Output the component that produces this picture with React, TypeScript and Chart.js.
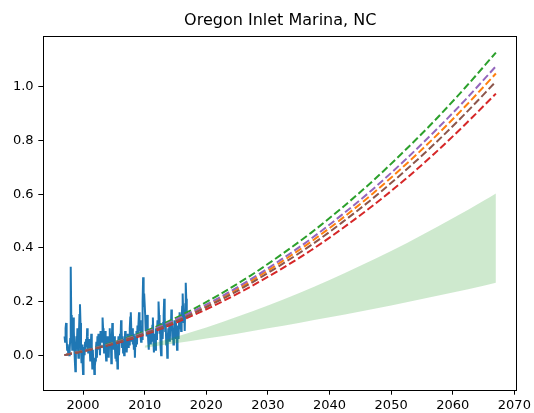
import React, { useEffect, useRef } from "react";
import { Chart, registerables } from "chart.js";

Chart.register(...registerables);

const chartTitle = "Oregon Inlet Marina, NC";

// Observed monthly values, starting Jan 1997
const obsStartYear = 1997.0;
const obsValues: number[] = [
  // 1997
  0.07, 0.05, 0.10, 0.12, 0.06, 0.02, 0.04, 0.01, 0.03, 0.00, 0.02, 0.06,
  // 1998
  0.33, 0.15, 0.08, 0.02, 0.05, 0.14, 0.09, 0.03, -0.02, -0.06, 0.01, 0.07,
  // 1999
  0.04, 0.10, 0.03, -0.01, 0.08, 0.15, 0.19, 0.12, 0.02, -0.03, 0.04, -0.02,
  // 2000
  -0.07, -0.02, 0.03, 0.00, 0.05, 0.02, 0.06, 0.03, 0.10, 0.07, 0.01, 0.04,
  // 2001
  0.06, 0.02, -0.02, 0.03, 0.08, 0.01, -0.05, 0.02, -0.03, -0.01, -0.07, -0.04,
  // 2002
  -0.02, 0.02, 0.05, -0.01, 0.07, 0.04, 0.08, 0.02, 0.06, 0.00, 0.09, 0.06,
  // 2003
  0.09, 0.05, 0.14, 0.10, 0.06, 0.01, 0.04, 0.09, 0.02, -0.02, 0.05, 0.07,
  // 2004
  0.03, 0.07, -0.01, 0.06, 0.10, 0.03, 0.08, -0.03, 0.06, 0.12, 0.09, 0.04,
  // 2005
  0.02, 0.07, 0.03, -0.01, 0.05, -0.02, 0.02, -0.05, 0.03, 0.07, 0.00, 0.04,
  // 2006
  0.08, 0.05, 0.13, 0.10, 0.03, 0.07, 0.01, 0.06, 0.00, 0.04, 0.09, 0.02,
  // 2007
  0.06, 0.01, 0.05, 0.08, 0.03, 0.07, 0.04, 0.10, 0.14, 0.16, 0.09, 0.05,
  // 2008
  0.10, 0.04, 0.08, 0.02, 0.06, -0.01, 0.07, 0.03, 0.09, 0.04, 0.11, 0.07,
  // 2009
  0.12, 0.16, 0.09, 0.13, 0.07, 0.05, 0.11, 0.06, 0.20, 0.29, 0.18, 0.23,
  // 2010
  0.23, 0.15, 0.09, 0.12, 0.07, 0.15, 0.10, 0.05, 0.02, 0.09, 0.04, 0.08,
  // 2011
  0.04, 0.09, 0.05, 0.11, 0.14, 0.06, 0.01, 0.05, 0.08, 0.02, 0.10, 0.06,
  // 2012
  0.09, 0.13, 0.10, 0.20, 0.15, 0.08, 0.12, 0.03, 0.00, 0.06, 0.10, 0.06,
  // 2013
  0.12, 0.15, 0.21, 0.14, 0.09, 0.12, 0.04, 0.08, -0.01, 0.06, 0.10, 0.06,
  // 2014
  0.11, 0.05, 0.13, 0.09, 0.17, 0.12, 0.06, 0.10, 0.04, 0.09, 0.13, 0.08,
  // 2015
  0.12, 0.06, 0.09, 0.02, 0.08, 0.11, 0.06, 0.13, 0.16, 0.10, 0.14, 0.09,
  // 2016
  0.13, 0.18, 0.23, 0.16, 0.12, 0.16, 0.09, 0.19, 0.27, 0.21, 0.14, 0.15,
];

// Projection curves
const projYears = [1997, 2002, 2007, 2012, 2017, 2022, 2027, 2032, 2037, 2042, 2047, 2052, 2057, 2062, 2067];
const projGreen = [0, 0.028, 0.063, 0.107, 0.161, 0.224, 0.294, 0.372, 0.456, 0.549, 0.649, 0.758, 0.873, 0.997, 1.128];
const projPurple = [0, 0.027, 0.060, 0.102, 0.154, 0.213, 0.280, 0.354, 0.434, 0.523, 0.618, 0.722, 0.833, 0.951, 1.077];
const projOrange = [0, 0.026, 0.059, 0.100, 0.150, 0.208, 0.273, 0.345, 0.423, 0.509, 0.602, 0.703, 0.811, 0.927, 1.050];
const projBrown = [0, 0.025, 0.058, 0.097, 0.146, 0.202, 0.265, 0.335, 0.410, 0.494, 0.584, 0.682, 0.787, 0.900, 1.020];
const projRed = [0, 0.025, 0.055, 0.093, 0.140, 0.193, 0.253, 0.319, 0.391, 0.471, 0.557, 0.650, 0.751, 0.860, 0.975];

// Shaded band
const bandYears = [2010, 2015, 2020, 2025, 2030, 2035, 2040, 2045, 2050, 2055, 2060, 2065, 2067];
const bandLower = [0.028, 0.044, 0.062, 0.080, 0.100, 0.120, 0.141, 0.163, 0.185, 0.209, 0.234, 0.259, 0.270];
const bandUpper = [0.035, 0.068, 0.103, 0.143, 0.185, 0.231, 0.280, 0.333, 0.388, 0.448, 0.510, 0.576, 0.603];

// Axes
const xTicks = [2000, 2010, 2020, 2030, 2040, 2050, 2060, 2070];
const yTicks = [0.0, 0.2, 0.4, 0.6, 0.8, 1.0];
const xMin = 1993.5;
const xMax = 2070.5;
const yMin = -0.13;
const yMax = 1.19;

const FONT = '"DejaVu Sans", sans-serif';

const toPts = (xs: number[], ys: number[]) => xs.map((x, i) => ({ x, y: ys[i] }));

const mplPlugin = {
  id: "mplFrameTitle",
  afterDraw(chart: any) {
    const ctx = chart.ctx;
    const { left, right, top, bottom } = chart.chartArea;
    ctx.save();
    ctx.strokeStyle = "#000";
    ctx.lineWidth = 1;
    ctx.strokeRect(Math.round(left) + 0.5, Math.round(top) + 0.5, Math.round(right - left) - 1, Math.round(bottom - top));
    ctx.fillStyle = "#000";
    ctx.font = `16px ${FONT}`;
    ctx.textAlign = "center";
    ctx.textBaseline = "alphabetic";
    ctx.fillText(chartTitle, (left + right) / 2, top - 11);
    ctx.restore();
  },
};

export default function App() {
  const ref = useRef<HTMLCanvasElement | null>(null);

  useEffect(() => {
    document.body.style.margin = "0";
    if (!ref.current) return;
    const obsPts = obsValues.map((v, i) => ({ x: obsStartYear + i / 12, y: v }));
    const dashed = (data: number[], color: string) => ({
      type: "line" as const,
      data: toPts(projYears, data),
      borderColor: color,
      borderWidth: 2,
      borderDash: [7.4, 3.2],
      pointRadius: 0,
      fill: false,
      cubicInterpolationMode: "monotone" as const,
    });
    const chart = new Chart(ref.current, {
      type: "line",
      data: {
        datasets: [
          dashed(projBrown, "#8c564b"),
          dashed(projPurple, "#9467bd"),
          dashed(projRed, "#d62728"),
          dashed(projGreen, "#2ca02c"),
          dashed(projOrange, "#ff7f0e"),
          {
            data: toPts(bandYears, bandUpper),
            borderWidth: 0,
            borderColor: "rgba(0,0,0,0)",
            backgroundColor: "rgba(44,160,44,0.23)",
            pointRadius: 0,
            fill: "+1",
            cubicInterpolationMode: "monotone",
          },
          {
            data: toPts(bandYears, bandLower),
            borderWidth: 0,
            borderColor: "rgba(0,0,0,0)",
            pointRadius: 0,
            fill: false,
            cubicInterpolationMode: "monotone",
          },
          {
            data: obsPts,
            borderColor: "#1f77b4",
            borderWidth: 2,
            pointRadius: 0,
            fill: false,
            tension: 0,
          },
        ] as any,
      },
      plugins: [mplPlugin],
      options: {
        animation: false,
        responsive: false,
        layout: { padding: { top: 36, right: 14, left: 0, bottom: 0 } },
        plugins: {
          legend: { display: false },
          title: { display: false },
          tooltip: { enabled: false },
        },
        scales: {
          x: {
            type: "linear",
            min: xMin,
            max: xMax,
            afterBuildTicks: (scale: any) => {
              scale.ticks = xTicks.map((v) => ({ value: v }));
            },
            afterFit: (scale: any) => {
              scale.height = 23;
            },
            border: { display: false },
            grid: {
              display: true,
              drawOnChartArea: false,
              drawTicks: true,
              tickLength: 4.7,
              tickWidth: 1,
              tickColor: "#000",
            },
            ticks: {
              color: "#000",
              padding: 3,
              maxRotation: 0,
              autoSkip: false,
              font: { family: FONT, size: 13 },
              callback: (v: any) => String(v),
            },
          },
          y: {
            type: "linear",
            min: yMin,
            max: yMax,
            afterBuildTicks: (scale: any) => {
              scale.ticks = yTicks.map((v) => ({ value: v }));
            },
            afterFit: (scale: any) => {
              scale.width = 43;
            },
            border: { display: false },
            grid: {
              display: true,
              drawOnChartArea: false,
              drawTicks: true,
              tickLength: 4.7,
              tickWidth: 1,
              tickColor: "#000",
            },
            ticks: {
              color: "#000",
              padding: 4.7,
              autoSkip: false,
              font: { family: FONT, size: 13 },
              callback: (v: any) => Number(v).toFixed(1),
            },
          },
        },
      } as any,
    });
    return () => chart.destroy();
  }, []);

  return (
    <div style={{ width: 534, height: 413 }}>
      <canvas ref={ref} width={534} height={413} style={{ display: "block" }} />
    </div>
  );
}
